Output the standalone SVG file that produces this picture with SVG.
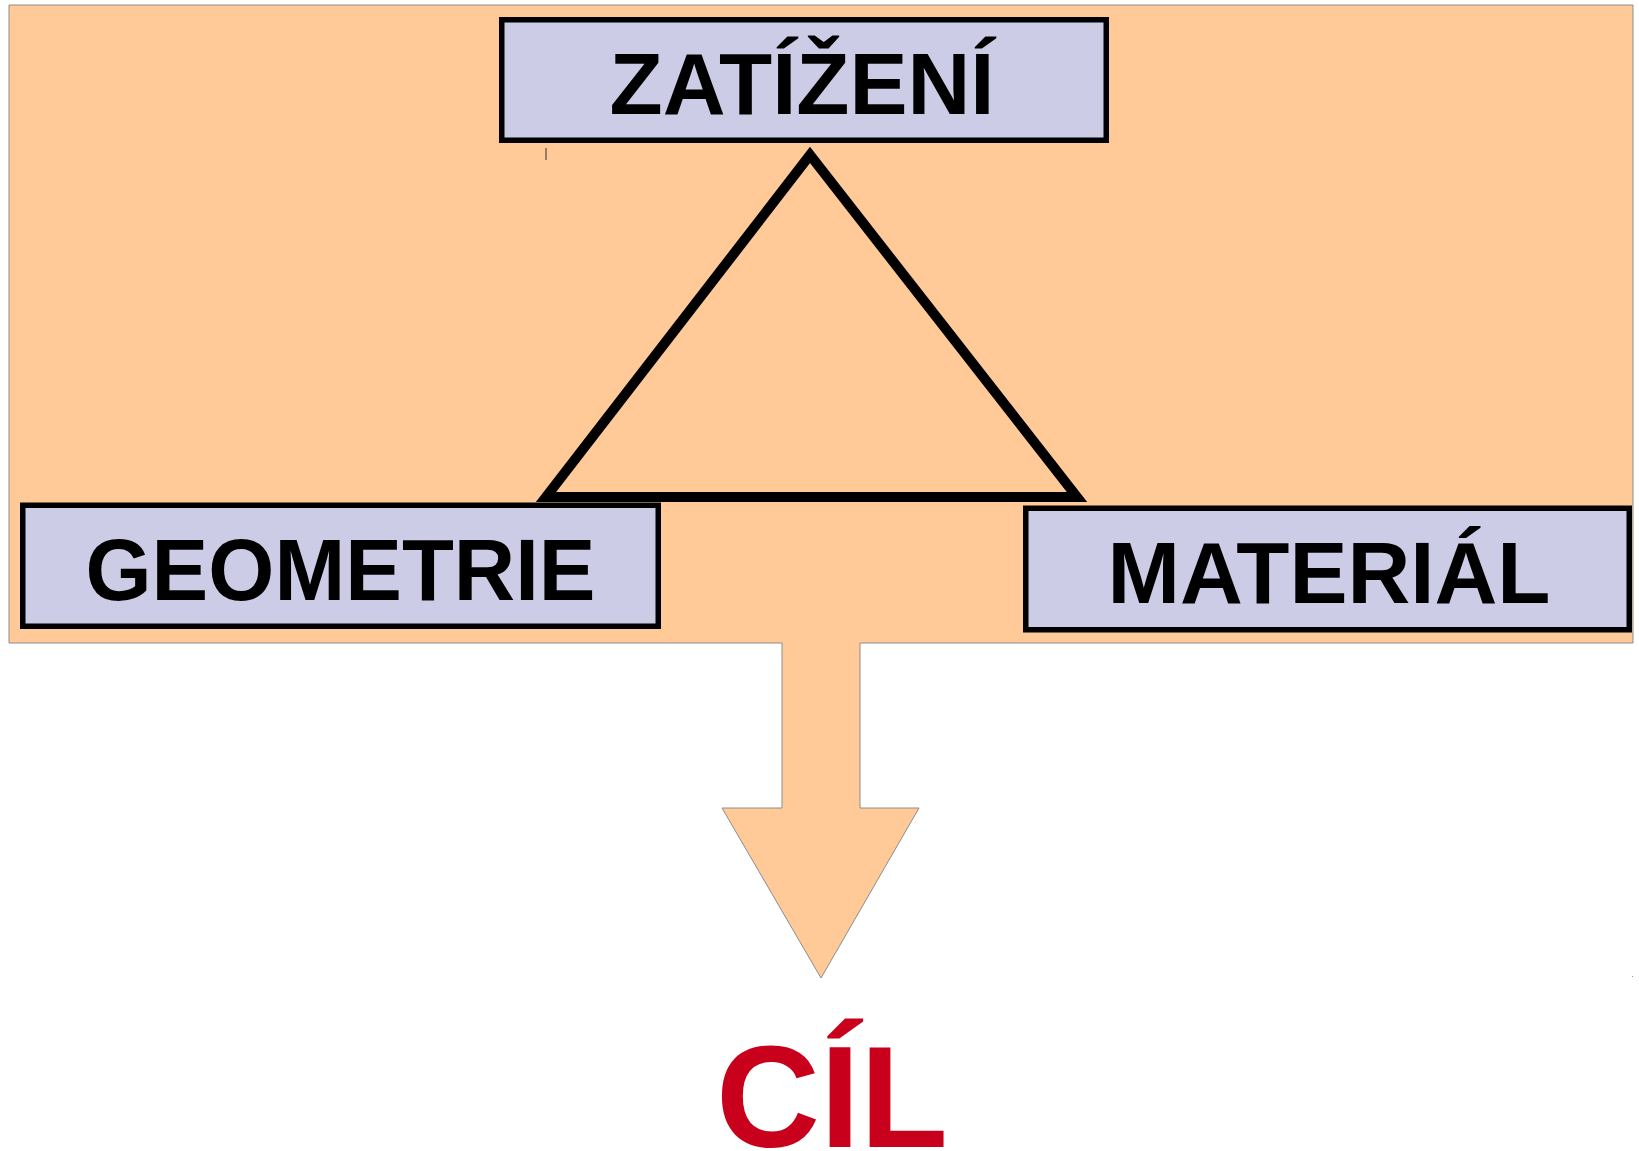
<svg xmlns="http://www.w3.org/2000/svg" width="1639" height="1151" viewBox="0 0 1639 1151">
  <style>
    .bg { fill: #FFCA98; stroke: #8C8C8C; stroke-width: 1; }
    .box { fill: #CCCCE6; stroke: #000000; stroke-width: 5.5; }
    .lbl { font-family: "Liberation Sans", Arial, sans-serif; font-weight: bold; font-size: 87px; fill: #000000; text-anchor: middle; }
    .goal { font-family: "Liberation Sans", Arial, sans-serif; font-weight: bold; font-size: 144px; fill: #C9001B; text-anchor: middle; }
    .tri { fill: none; stroke: #000000; stroke-width: 10; stroke-linejoin: miter; stroke-miterlimit: 10; }
  </style>
  <rect x="0" y="0" width="1639" height="1151" fill="#FFFFFF"/>
  <g id="background">
    <path class="bg" d="M9,5 H1633 V643 H860 V808 H919 L821,978 L722,808 H782 V643 H9 Z"/>
    <line x1="546" y1="148" x2="546" y2="160" stroke="#333333" stroke-width="1"/>
    <rect x="1632" y="976" width="1" height="1" fill="#999999"/>
  </g>
  <g id="connectors">
    <polygon class="tri" points="546,497 1077,497 810,155"/>
  </g>
  <g id="zatizeni">
    <rect class="box" x="501.75" y="19.75" width="604.5" height="120.5"/>
    <text class="lbl" x="802" y="114">ZATÍŽENÍ</text>
  </g>
  <g id="geometrie">
    <rect class="box" x="22.75" y="505.25" width="635.5" height="121"/>
    <text class="lbl" x="340.5" y="600" textLength="510" lengthAdjust="spacingAndGlyphs">GEOMETRIE</text>
  </g>
  <g id="material">
    <rect class="box" x="1025.75" y="508.25" width="603.5" height="121.5"/>
    <text class="lbl" x="1329" y="603">MATERIÁL</text>
  </g>
  <g id="cil">
    <text class="goal" x="832" y="1147">CÍL</text>
  </g>
</svg>
